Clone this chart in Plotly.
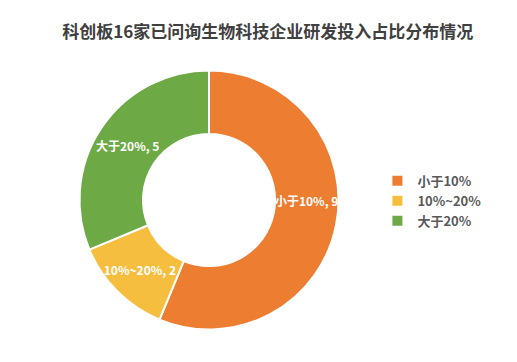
import plotly.graph_objects as go

categories = ["小于10%", "10%~20%", "大于20%"]
values = [9, 2, 5]
colors = ["#ED7D31", "#F6BE3F", "#6DAA45"]
title_text = "科创板16家已问询生物科技企业研发投入占比分布情况"

font_fam = "Noto Sans CJK SC"
label_size = 12
pie_domain = dict(x=[0.1538, 0.6547], y=[0.0898, 0.8052])
common = dict(labels=categories, values=values, hole=0.51, sort=False,
              direction="clockwise", rotation=0, domain=pie_domain,
              texttemplate="<b>%{label}, %{value}</b>",
              textfont=dict(color="white", size=label_size, family=font_fam))

# main donut: slices, legend and labels of the two smaller slices
fig = go.Figure(go.Pie(
    **common,
    marker=dict(colors=colors, line=dict(color="white", width=2)),
    textposition=["none", "inside", "inside"],
    insidetextorientation="horizontal",
    hoverinfo="label+value",
))
# transparent twin of the same donut, only to place the big slice's label
fig.add_trace(go.Pie(
    **common,
    marker=dict(colors=["rgba(0,0,0,0)"] * len(values), line=dict(width=0)),
    textposition=["inside", "none", "none"],
    insidetextorientation="radial",
    hoverinfo="skip",
    showlegend=False,
))

fig.update_layout(
    width=517, height=362,
    margin=dict(l=0, r=0, t=0, b=0),
    paper_bgcolor="white",
    plot_bgcolor="white",
    title=dict(text="<b>" + title_text + "</b>", x=0.518, xanchor="center",
               y=0.912, yanchor="middle", yref="container",
               font=dict(size=17, color="#404040", family=font_fam)),
    legend=dict(x=0.73, y=0.445, xanchor="left", yanchor="middle",
                font=dict(size=13, color="#595959", family=font_fam),
                itemwidth=30),
    uniformtext=dict(minsize=label_size, mode="show"),
)
fig.update_layout(legend_font_weight="bold")
fig.write_html("out.html")
